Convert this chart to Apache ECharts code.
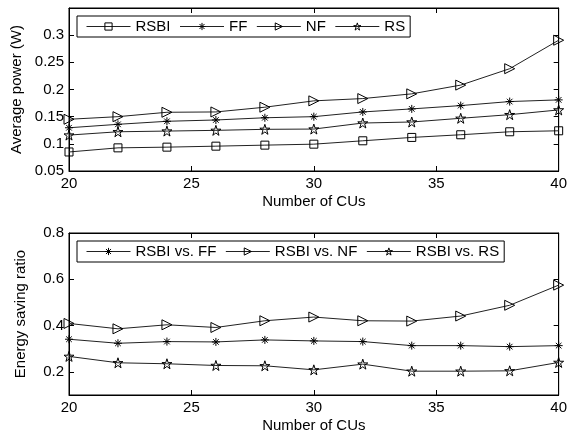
<!DOCTYPE html>
<html><head><meta charset="utf-8">
<script src="https://cdn.jsdelivr.net/npm/echarts@6/dist/echarts.min.js"></script>
<style>html,body{margin:0;padding:0;background:#fff}#c{width:570px;height:437px}</style>
</head><body><div id="c"></div>
<script>
const cus = [20,22,24,26,28,30,32,34,36,38,40];
const powerRSBI = [0.085,0.0926,0.0939,0.0957,0.0976,0.0994,0.1056,0.1118,0.1167,0.1222,0.124];
const powerFF   = [0.1296,0.1359,0.1415,0.1439,0.148,0.150,0.1587,0.1643,0.1704,0.1778,0.1809];
const powerNF   = [0.1452,0.150,0.1581,0.1587,0.1674,0.1791,0.1833,0.192,0.2081,0.2383,0.2907];
const powerRS   = [0.1161,0.1222,0.1235,0.1248,0.1267,0.1272,0.1383,0.1402,0.147,0.1537,0.1624];
const ratioFF = [0.341,0.3235,0.3308,0.3293,0.338,0.3337,0.3308,0.3133,0.3133,0.309,0.3133];
const ratioNF = [0.4092,0.386,0.4034,0.3918,0.4208,0.4368,0.4208,0.4194,0.4412,0.4877,0.5748];
const ratioRS = [0.2668,0.2392,0.2349,0.2276,0.2262,0.2087,0.2334,0.2029,0.2029,0.2044,0.2407];
const topNames = ['RSBI','FF','NF','RS'];
const bottomNames = ['RSBI vs. FF','RSBI vs. NF','RSBI vs. RS'];
const xTicks = [20,25,30,35,40];
const topYTicks = [0.05,0.1,0.15,0.2,0.25,0.3];
const bottomYTicks = [0.2,0.4,0.6,0.8];

const FONT = "'Liberation Sans', Arial, Helvetica, sans-serif";
const FS = 15;
const SYM = {
  square: 'rect',
  asterisk: 'path://M5,0 L5,10 M0,5 L10,5 M1.5,1.5 L8.5,8.5 M1.5,8.5 L8.5,1.5',
  triangle: 'path://M0,0 L10,5 L0,10 Z',
  star: 'path://M50,0 L61.23,34.55 L97.55,34.55 L68.16,55.9 L79.39,90.45 L50,69.1 L20.61,90.45 L31.84,55.9 L2.45,34.55 L38.77,34.55 Z'
};
const HOLLOW = {color:'rgba(255,255,255,0)', borderColor:'#000', borderWidth:1};
function pairs(ys){ return cus.map((x,i)=>[x,ys[i]]); }
function mkSeries(name, ys, sym, size, axisIdx){
  return {
    name, type:'line', xAxisIndex:axisIdx, yAxisIndex:axisIdx,
    data: pairs(ys), symbol: sym, symbolSize: size, showSymbol:true,
    lineStyle:{color:'#222', width:1},
    itemStyle: Object.assign({}, HOLLOW),
    emphasis:{disabled:true}, animation:false, z:3
  };
}
const tickStyle = {show:true, inside:true, length:5, lineStyle:{color:'#000'}};
function xAx(gi, bottom){
  return {
    type:'value', gridIndex:gi, min:20, max:40, interval:5,
    position: bottom ? 'bottom' : 'top',
    axisLine:{show:true, onZero:false, lineStyle:{color:'#000'}},
    axisTick: Object.assign({customValues: xTicks}, tickStyle),
    axisLabel:{show:bottom, customValues: xTicks, color:'#000', fontSize:FS, fontFamily:FONT, margin:5},
    splitLine:{show:false},
    name: bottom ? 'Number of CUs' : '', nameLocation:'middle', nameGap:23,
    nameTextStyle:{color:'#000', fontSize:FS, fontFamily:FONT}
  };
}
function yAx(gi, left, min, max, interval, ticks, name){
  return {
    type:'value', gridIndex:gi, min, max, interval,
    position: left ? 'left' : 'right',
    axisLine:{show:true, onZero:false, lineStyle:{color:'#000'}},
    axisTick: Object.assign({customValues: ticks}, tickStyle),
    axisLabel:{show:left, customValues: ticks, color:'#000', fontSize:FS, fontFamily:FONT, margin:5},
    splitLine:{show:false},
    name: left ? name : '', nameLocation:'middle', nameGap:41,
    nameTextStyle:{color:'#000', fontSize:FS, fontFamily:FONT}
  };
}
function legendData(names){
  return names.map(n=>({name:n, itemStyle:Object.assign({}, HOLLOW)}));
}
const legendCommon = {
  orient:'horizontal', itemWidth:44, itemHeight:9, itemGap:9,
  borderColor:'#000', borderWidth:1, backgroundColor:'#fff',
  padding:[3,5,3,9],
  itemStyle: Object.assign({}, HOLLOW),
  lineStyle:{color:'#222', width:1},
  textStyle:{color:'#000', fontSize:FS, fontFamily:FONT},
  selectedMode:false
};
const chart = echarts.init(document.getElementById('c'), null, {renderer:'canvas'});
chart.setOption({
  animation:false,
  backgroundColor:'#fff',
  grid:[
    {left:69, top:8, width:491, height:163, show:true, borderColor:'#000', borderWidth:1},
    {left:69, top:233, width:491, height:162, show:true, borderColor:'#000', borderWidth:1}
  ],
  xAxis:[xAx(0,true), xAx(1,true), xAx(0,false), xAx(1,false)],
  yAxis:[
    yAx(0,true,0.05,0.35,0.05,topYTicks,'Average power (W)'),
    yAx(1,true,0.1,0.8,0.1,bottomYTicks,'Energy saving ratio'),
    yAx(0,false,0.05,0.35,0.05,topYTicks,''),
    yAx(1,false,0.1,0.8,0.1,bottomYTicks,'')
  ],
  legend:[
    Object.assign({left:77, top:16, data: legendData(topNames)}, legendCommon),
    Object.assign({left:77, top:241, data: legendData(bottomNames)}, legendCommon)
  ],
  series:[
    mkSeries('RSBI', powerRSBI, SYM.square, 8, 0),
    mkSeries('FF', powerFF, SYM.asterisk, 8, 0),
    mkSeries('NF', powerNF, SYM.triangle, 10, 0),
    mkSeries('RS', powerRS, SYM.star, 10, 0),
    mkSeries('RSBI vs. FF', ratioFF, SYM.asterisk, 8, 1),
    mkSeries('RSBI vs. NF', ratioNF, SYM.triangle, 10, 1),
    mkSeries('RSBI vs. RS', ratioRS, SYM.star, 10, 1)
  ]
});
</script></body></html>
